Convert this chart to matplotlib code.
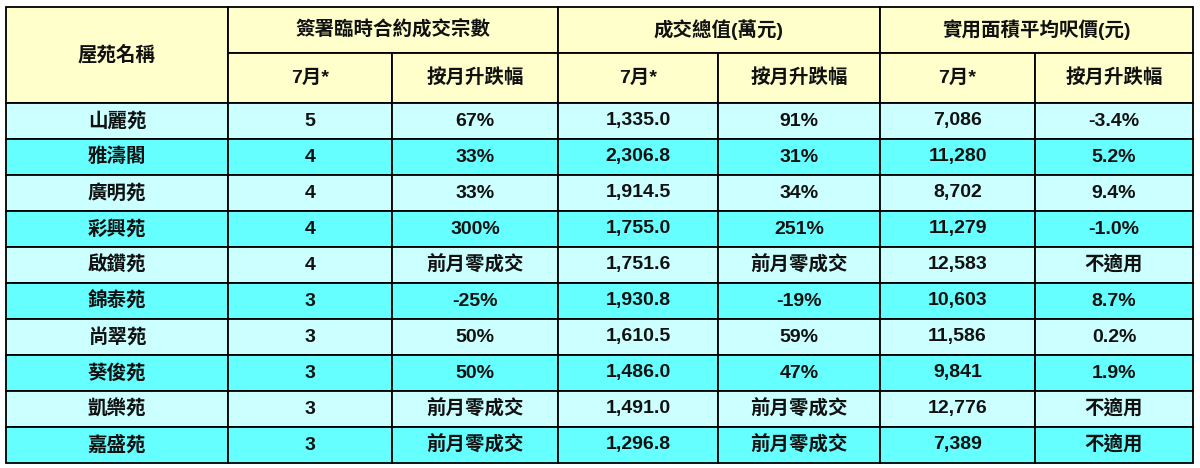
import matplotlib
matplotlib.use('Agg')
import matplotlib.pyplot as plt
from matplotlib.patches import Rectangle

plt.rcParams['font.family'] = ['Liberation Sans', 'Noto Sans CJK TC', 'DejaVu Sans']

# data
estates = ['山麗苑', '雅濤閣', '廣明苑', '彩興苑', '啟鑽苑', '錦泰苑', '尚翠苑', '葵俊苑', '凱樂苑', '嘉盛苑']
deals = ['5', '4', '4', '4', '4', '3', '3', '3', '3', '3']
deals_chg = ['67%', '33%', '33%', '300%', '前月零成交', '-25%', '50%', '50%', '前月零成交', '前月零成交']
value = ['1,335.0', '2,306.8', '1,914.5', '1,755.0', '1,751.6', '1,930.8', '1,610.5', '1,486.0', '1,491.0', '1,296.8']
value_chg = ['91%', '31%', '34%', '251%', '前月零成交', '-19%', '59%', '47%', '前月零成交', '前月零成交']
price = ['7,086', '11,280', '8,702', '11,279', '12,583', '10,603', '11,586', '9,841', '12,776', '7,389']
price_chg = ['-3.4%', '5.2%', '9.4%', '-1.0%', '不適用', '8.7%', '0.2%', '1.9%', '不適用', '不適用']
groups = ['簽署臨時合約成交宗數', '成交總值(萬元)', '實用面積平均呎價(元)']
sub = ['7月*', '按月升跌幅']

fig = plt.figure(figsize=(12, 4.68), dpi=100)
ax = fig.add_axes([0, 0, 1, 1])
ax.set_xlim(0, 1200)
ax.set_ylim(468, 0)
ax.axis('off')

xs = [6, 228, 392, 558, 718, 880, 1035, 1193]
y0, y1, y2 = 7, 53, 103
rh = 36
lw = 1.3
fs = 14

def cell(x0, x1, ya, yb, color, text):
    ax.add_patch(Rectangle((x0, ya), x1 - x0, yb - ya, facecolor=color,
                           edgecolor='black', linewidth=lw))
    ax.text((x0 + x1) / 2, (ya + yb) / 2, text, ha='center', va='center',
            fontsize=fs, fontweight='bold', color='#111111')

hdr = '#FFFFCC'
cell(xs[0], xs[1], y0, y2, hdr, '屋苑名稱')
for g in range(3):
    cell(xs[1 + 2 * g], xs[3 + 2 * g], y0, y1, hdr, groups[g])
    for k in range(2):
        cell(xs[1 + 2 * g + k], xs[2 + 2 * g + k], y1, y2, hdr, sub[k])

cols = [estates, deals, deals_chg, value, value_chg, price, price_chg]
for i in range(len(estates)):
    color = '#CCFFFF' if i % 2 == 0 else '#66FFFF'
    ya = y2 + i * rh
    for j, c in enumerate(cols):
        cell(xs[j], xs[j + 1], ya, ya + rh, color, c[i])

fig.savefig('out.png', dpi=100)
